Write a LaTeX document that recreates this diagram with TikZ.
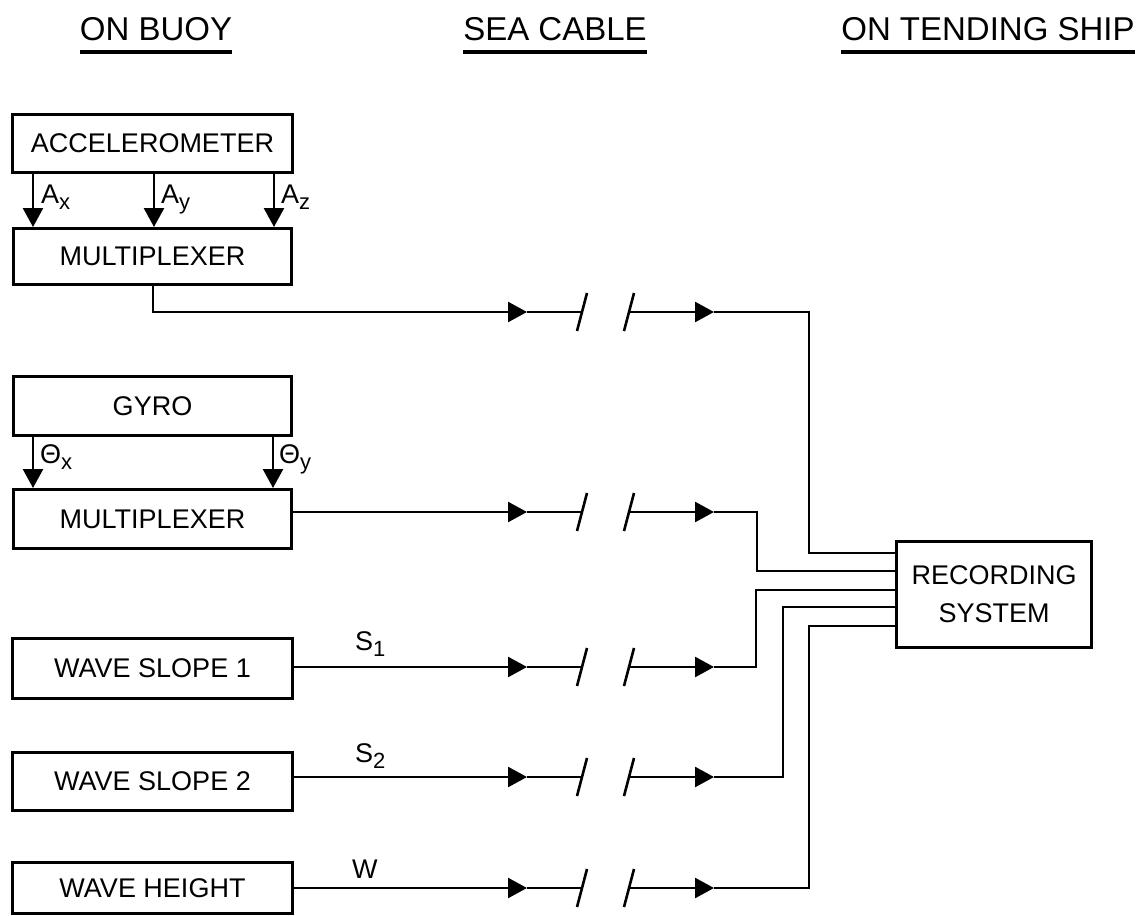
\documentclass[tikz,border=0pt]{standalone}
\usepackage{fontspec}
\setmainfont{Liberation Sans}
\usetikzlibrary{arrows.meta}
\newcommand{\mysub}[2]{#1\raisebox{-6pt}{\fontsize{22}{22}\selectfont #2}}
\tikzset{
  box/.style={draw, line width=3pt, inner sep=0pt, anchor=north west,
    font=\fontsize{27}{38}\selectfont, align=center},
  wire/.style={line width=2.6pt},
  arr/.style={wire, -{Triangle[length=19pt,width=20pt]}},
  lbl/.style={inner sep=0pt, anchor=base west, font=\fontsize{27}{30}\selectfont},
  hdr/.style={inner sep=0pt, anchor=base, font=\fontsize{33}{36}\selectfont},
  uline/.style={line width=3.2pt},
  slash/.style={line width=2.6pt}
}
\begin{document}
\begin{tikzpicture}[x=1pt,y=-1pt]
\useasboundingbox (0,0) rectangle (1142,915);
% headers
\node[hdr] (h1) at (156,41) {ON BUOY};
\node[hdr] (h2) at (555,41) {SEA CABLE};
\node[hdr] (h3) at (988,41) {ON TENDING SHIP};
\foreach \h in {h1,h2,h3}{
  \draw[uline] ([yshift=-11pt]\h.base west) -- ([yshift=-11pt]\h.base east);
}
% boxes
\node[box, minimum width=280pt, minimum height=58pt] (acc) at (11,113) {ACCELEROMETER};
\node[box, minimum width=278pt, minimum height=56pt] (mux1) at (12,227) {MULTIPLEXER};
\node[box, minimum width=278pt, minimum height=59pt] (gyro) at (12,375) {GYRO};
\node[box, minimum width=278pt, minimum height=59pt] (mux2) at (12,488) {MULTIPLEXER};
\node[box, minimum width=280pt, minimum height=60pt] (ws1) at (11,637) {WAVE SLOPE 1};
\node[box, minimum width=280pt, minimum height=58pt] (ws2) at (11,751) {WAVE SLOPE 2};
\node[box, minimum width=280pt, minimum height=51pt] (wh) at (11,861) {WAVE HEIGHT};
\node[box, minimum width=195pt, minimum height=106pt] (rec) at (895,540) {RECORDING\\SYSTEM};
% accelerometer outputs
\coordinate (ax) at (33,0);
\coordinate (ay) at (154,0);
\coordinate (az) at (274,0);
\foreach \c in {ax,ay,az}{ \draw[arr] (acc.south -| \c) -- (mux1.north -| \c); }
\node[lbl] (lax) at (41,203) {\mysub{A}{x}};
\node[lbl] (lay) at (161,203) {\mysub{A}{y}};
\node[lbl] (laz) at (281,203) {\mysub{A}{z}};
% gyro outputs
\coordinate (gx) at (33,0);
\coordinate (gy) at (273,0);
\foreach \c in {gx,gy}{ \draw[arr] (gyro.south -| \c) -- (mux2.north -| \c); }
\node[lbl] (lgx) at (40,463) {\mysub{Θ}{x}};
\node[lbl] (lgy) at (279,463) {\mysub{Θ}{y}};
% signal labels
\node[lbl] (ls1) at (355,650) {\mysub{S}{1}};
\node[lbl] (ls2) at (355,762) {\mysub{S}{2}};
\node[lbl] (lw) at (352,878) {W};
% rows: y positions
\foreach \r/\y in {1/312,2/512,3/667,4/777,5/888}{
  \coordinate (a\r) at (527,\y);
  \coordinate (s\r) at (582,\y);
  \coordinate (t\r) at (629,\y);
  \coordinate (b\r) at (714,\y);
  \draw[slash] (s\r) ++(5,-19) -- ++(-10,38);
  \draw[slash] (t\r) ++(5,-19) -- ++(-10,38);
  \draw[wire] (a\r) -- (s\r);
  \draw[arr] (t\r) -- (b\r);
}
% sources to cable
\coordinate (v0) at (153,0);
\draw[arr] (mux1.south -| v0) |- (a1);
\draw[arr] (mux2.east |- a2) -- (a2);
\draw[arr] (ws1.east |- a3) -- (a3);
\draw[arr] (ws2.east |- a4) -- (a4);
\draw[arr] (wh.east |- a5) -- (a5);
% to recording system
\coordinate (e1) at (809,553);
\coordinate (e2) at (757,571);
\coordinate (e3) at (756,590);
\coordinate (e4) at (783,607);
\coordinate (e5) at (809,626);
\foreach \r in {1,...,5}{
  \draw[wire] (b\r) -| (e\r) -- (rec.west |- e\r);
}
\end{tikzpicture}
\end{document}
